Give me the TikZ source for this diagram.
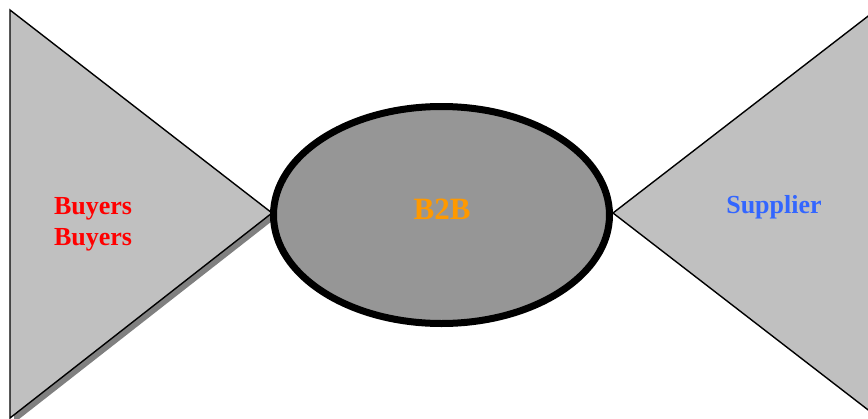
\documentclass[tikz,border=0pt]{standalone}
\usepackage{fontspec}
\setmainfont{Liberation Serif}
\usetikzlibrary{shapes.geometric}
\definecolor{tri}{HTML}{C0C0C0}
\definecolor{shad}{HTML}{808080}
\definecolor{ell}{HTML}{969696}
\definecolor{bred}{HTML}{FF0000}
\definecolor{borange}{HTML}{FF9900}
\definecolor{bblue}{HTML}{3366FF}
\begin{document}
\begin{tikzpicture}[x=1pt,y=-1pt,
  wing/.style={fill=tri,draw=black,line width=1.4pt,line join=miter},
  lbl/.style={font=\bfseries\fontsize{26}{31}\selectfont,inner sep=0pt,anchor=base}]
\useasboundingbox (0,0) rectangle (868,418);
\clip (0,0) rectangle (868,418);
% left triangle with shadow
\fill[shad] (14,15) -- (276,218) -- (14,423) -- cycle;
\draw[wing] (10,10) coordinate (lt) -- (272,213) coordinate (la) -- (10,418) coordinate (lb) -- cycle;
% right triangle
\draw[wing] (876,10) coordinate (rt) -- (613,213) coordinate (ra) -- (876,416) coordinate (rb) -- cycle;
% ellipse
\node[draw=black,line width=7pt,fill=ell,ellipse,minimum width=336pt,minimum height=217pt,inner sep=0pt] (b2b) at (441.5,215) {};
\node[lbl,text=borange,font=\bfseries\fontsize{31}{36}\selectfont] (b2btext) at (442,219) {B2B};
\node[lbl,text=bred] (buy1) at (93,214) {Buyers};
\node[lbl,text=bred] (buy2) at (93,245) {Buyers};
\node[lbl,text=bblue] (sup) at (774,213) {Supplier};
\end{tikzpicture}
\end{document}
